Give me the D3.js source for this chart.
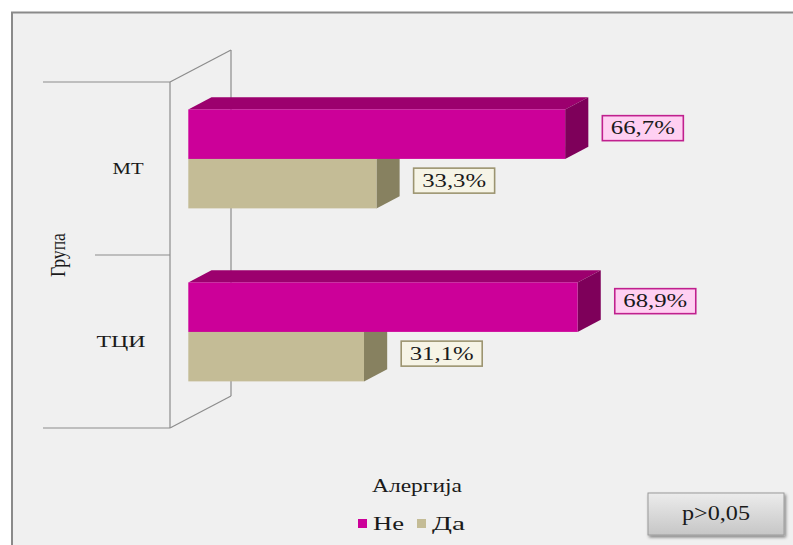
<!DOCTYPE html>
<html>
<head>
<meta charset="utf-8">
<script src="https://cdn.jsdelivr.net/npm/d3@7"></script>
<style>
  html, body { margin: 0; padding: 0; background: #ffffff; }
  svg { display: block; }
  text { font-family: "Times New Roman", "Liberation Serif", Times, serif; fill: #1a1a1a; }
</style>
</head>
<body>
<svg id="chart" width="793" height="545"></svg>
<script>
// Data
const categories = ["МТ", "ТЦИ"];
const seriesNames = ["Не", "Да"];
const valuesNe = [66.7, 68.9];
const valuesDa = [33.3, 31.1];
const valueLabels = [["66,7%", "33,3%"], ["68,9%", "31,1%"]];
const axisTitle = "Група";
const legendTitle = "Алергија";
const noteText = "p>0,05";

// Colours per series: front, top, side, label fill, label stroke
const palette = {
  "Не": { front: "#cc0099", top: "#9c006e", side: "#7e005a", box: "#ffd0f2", boxStroke: "#c0208e" },
  "Да": { front: "#c4bc96", top: "#a39c78", side: "#878160", box: "#f6f4e6", boxStroke: "#9c9470" }
};

const svg = d3.select("#chart");
const W = 793, H = 545;

// Panel background and frame
svg.append("rect").attr("x", 12).attr("y", 12).attr("width", W - 12).attr("height", H - 12)
  .attr("fill", "#f0f0f0");
svg.append("line").attr("x1", 11).attr("x2", W).attr("y1", 12.5).attr("y2", 12.5)
  .attr("stroke", "#8a8a8a").attr("stroke-width", 2);
svg.append("line").attr("x1", 12).attr("x2", 12).attr("y1", 12).attr("y2", H)
  .attr("stroke", "#8a8a8a").attr("stroke-width", 2);

// 3D geometry: front wall plane at x=170, depth vector of the wall
const wallX = 170, wallTop = 82, wallBottom = 428;
const depth = { x: 61, y: -32 };
const barFrontT = 0.3, barDepthT = 0.38;

// Value scale (percent) measured from the wall at the bar's depth
const x = d3.scaleLinear().domain([0, 100]).range([0, 565]);

// Category bands on the front plane
const yCat = d3.scaleBand().domain(categories).range([wallTop, wallBottom])
  .paddingInner(0.428).paddingOuter(0.214);
const ySer = d3.scaleBand().domain(seriesNames).range([0, yCat.bandwidth()]);

// Wall outline (category axis)
const wall = svg.append("g").attr("fill", "none").attr("stroke", "#8c8c8c").attr("stroke-width", 1.2);
const bx = wallX + depth.x, byTop = wallTop + depth.y, byBot = wallBottom + depth.y;
wall.append("line").attr("x1", bx).attr("x2", bx).attr("y1", byTop).attr("y2", byBot);
wall.append("line").attr("x1", wallX).attr("x2", wallX).attr("y1", wallTop).attr("y2", wallBottom);
wall.append("line").attr("x1", wallX).attr("y1", wallTop).attr("x2", bx).attr("y2", byTop);
wall.append("line").attr("x1", wallX).attr("y1", wallBottom).attr("x2", bx).attr("y2", byBot);
// category separators / tick lines
const cats = yCat.domain();
const boundaries = [wallTop, (yCat(cats[0]) + yCat.bandwidth() + yCat(cats[1])) / 2, wallBottom];
boundaries.forEach((yb, i) => {
  wall.append("line").attr("x1", i === 1 ? 95 : 43).attr("x2", wallX).attr("y1", yb).attr("y2", yb);
});

// Bars
const dx = depth.x * barDepthT, dy = depth.y * barDepthT;
const offX = wallX + depth.x * barFrontT, offY = depth.y * barFrontT;

const rows = [];
categories.forEach((c, i) => {
  rows.push({ cat: c, ser: "Не", value: valuesNe[i], label: valueLabels[i][0] });
  rows.push({ cat: c, ser: "Да", value: valuesDa[i], label: valueLabels[i][1] });
});

const barsG = svg.append("g");
// lower series first so the upper bar's top face stays visible
const order = rows.slice().sort((a, b) => (a.ser === "Да" ? -1 : 1));
order.forEach(d => {
  const col = palette[d.ser];
  const y0 = yCat(d.cat) + ySer(d.ser) + offY;
  const h = ySer.bandwidth();
  const x0 = offX, x1 = offX + x(d.value);
  const g = barsG.append("g");
  g.append("path").attr("fill", col.top)
    .attr("d", `M${x0},${y0} L${x0 + dx},${y0 + dy} L${x1 + dx},${y0 + dy} L${x1},${y0} Z`);
  g.append("path").attr("fill", col.side)
    .attr("d", `M${x1},${y0} L${x1 + dx},${y0 + dy} L${x1 + dx},${y0 + h + dy} L${x1},${y0 + h} Z`);
  g.append("rect").attr("x", x0).attr("y", y0).attr("width", x1 - x0).attr("height", h)
    .attr("fill", col.front);
});

// Value labels
rows.forEach(d => {
  const col = palette[d.ser];
  const y0 = yCat(d.cat) + ySer(d.ser) + offY;
  const h = ySer.bandwidth();
  const xEnd = offX + x(d.value) + dx;
  const bxL = xEnd + 14, bw = 81, bh = 25;
  const byL = y0 + h / 2 - bh / 2 - 6 + (d.ser === "Да" ? 3 : 0);
  const g = svg.append("g");
  g.append("rect").attr("x", bxL).attr("y", byL).attr("width", bw).attr("height", bh)
    .attr("fill", col.box).attr("stroke", col.boxStroke).attr("stroke-width", 1.6);
  g.append("text").attr("x", bxL + bw / 2).attr("y", byL + bh / 2 + 6)
    .attr("text-anchor", "middle").attr("font-size", 19)
    .attr("textLength", 64).attr("lengthAdjust", "spacingAndGlyphs")
    .text(d.label);
});

// Category labels
categories.forEach(c => {
  const cy = yCat(c) + yCat.bandwidth() / 2;
  svg.append("text").attr("x", c === "МТ" ? 128 : 121).attr("y", cy + 5)
    .attr("text-anchor", "middle").attr("font-size", 17)
    .attr("textLength", c === "МТ" ? 31 : 49).attr("lengthAdjust", "spacingAndGlyphs")
    .text(c);
});

// Axis title
svg.append("text").attr("transform", "translate(65,255) rotate(-90)")
  .attr("text-anchor", "middle").attr("font-size", 20)
  .attr("textLength", 44).attr("lengthAdjust", "spacingAndGlyphs")
  .text(axisTitle);

// Legend
svg.append("text").attr("x", 417).attr("y", 492).attr("text-anchor", "middle")
  .attr("font-size", 18).attr("textLength", 90).attr("lengthAdjust", "spacingAndGlyphs")
  .text(legendTitle);
const legendX = [358, 417];
seriesNames.forEach((s, i) => {
  svg.append("rect").attr("x", legendX[i]).attr("y", 519).attr("width", 9).attr("height", 9)
    .attr("fill", palette[s].front);
  svg.append("text").attr("x", legendX[i] + 15).attr("y", 530).attr("font-size", 18)
    .attr("textLength", s === "Не" ? 31 : 33).attr("lengthAdjust", "spacingAndGlyphs")
    .text(s);
});

// Significance note box
const defs = svg.append("defs");
const grad = defs.append("linearGradient").attr("id", "noteGrad").attr("x1", 0).attr("y1", 0).attr("x2", 0).attr("y2", 1);
grad.append("stop").attr("offset", "0%").attr("stop-color", "#ececec");
grad.append("stop").attr("offset", "100%").attr("stop-color", "#c6c6c6");
const shadow = defs.append("filter").attr("id", "noteShadow").attr("x", "-10%").attr("y", "-20%").attr("width", "130%").attr("height", "160%");
shadow.append("feDropShadow").attr("dx", 1.5).attr("dy", 2).attr("stdDeviation", 1.8)
  .attr("flood-color", "#000").attr("flood-opacity", 0.45);
svg.append("rect").attr("x", 648).attr("y", 493).attr("width", 136).attr("height", 42)
  .attr("fill", "url(#noteGrad)").attr("stroke", "#9a9a9a").attr("stroke-width", 1)
  .attr("filter", "url(#noteShadow)");
svg.append("text").attr("x", 716).attr("y", 520).attr("text-anchor", "middle")
  .attr("font-size", 20).attr("textLength", 68).attr("lengthAdjust", "spacingAndGlyphs")
  .text(noteText);
</script>
</body>
</html>
